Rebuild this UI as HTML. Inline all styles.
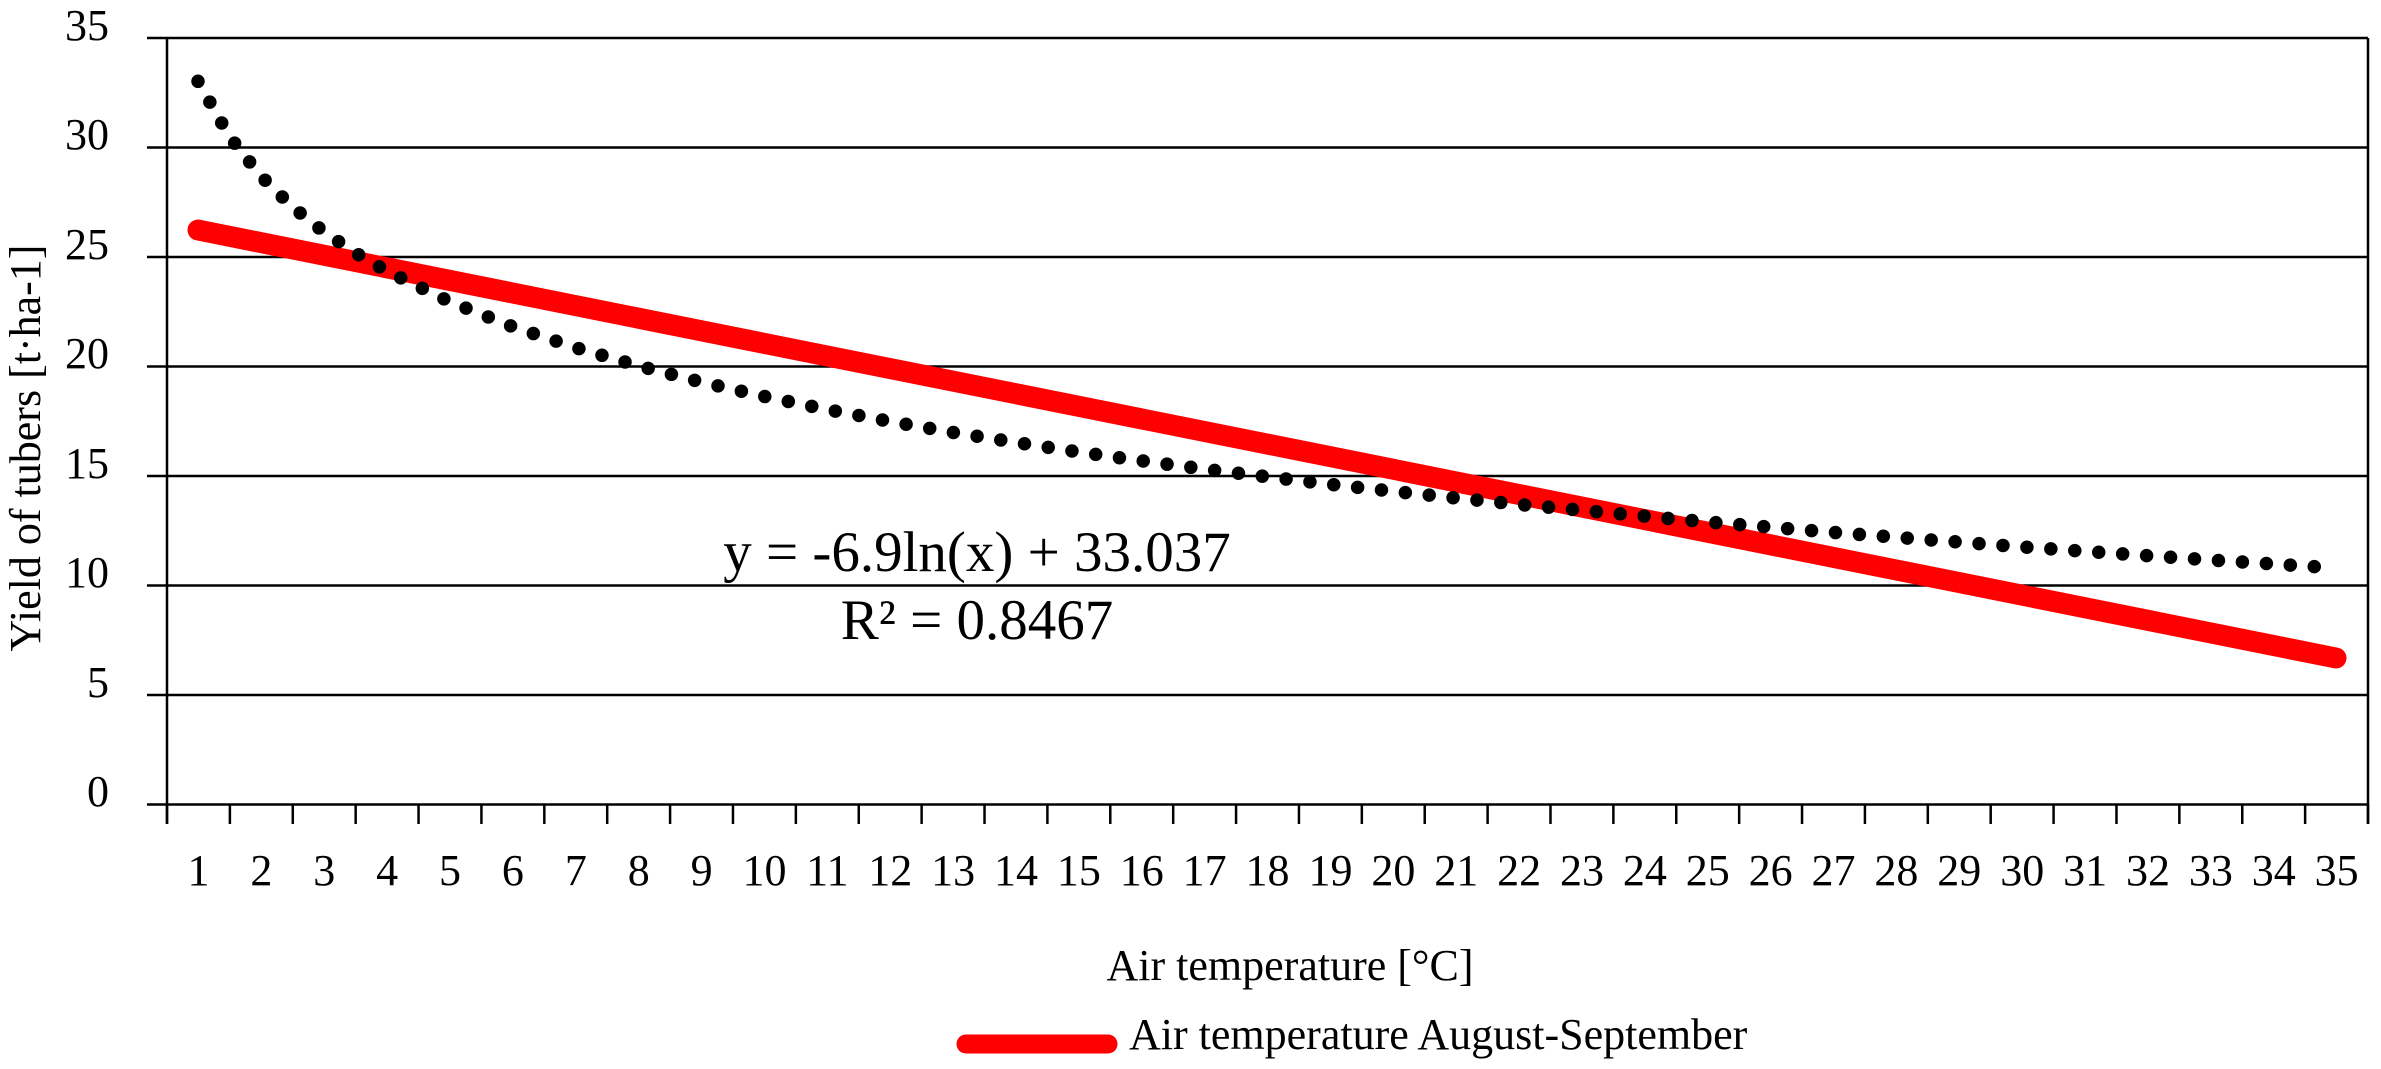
<!DOCTYPE html>
<html><head><meta charset="utf-8"><style>
html,body{margin:0;padding:0;background:#fff;}
svg{display:block;}
text{font-family:"Liberation Serif",serif;fill:#000;}
</style></head><body>
<svg width="2381" height="1069" viewBox="0 0 2381 1069" xmlns="http://www.w3.org/2000/svg">
<g stroke="#000" stroke-width="2.5" fill="none">
<line x1="147" y1="38" x2="2368" y2="38"/>
<line x1="147" y1="147.5" x2="2368" y2="147.5"/>
<line x1="147" y1="257" x2="2368" y2="257"/>
<line x1="147" y1="366.5" x2="2368" y2="366.5"/>
<line x1="147" y1="476" x2="2368" y2="476"/>
<line x1="147" y1="585.5" x2="2368" y2="585.5"/>
<line x1="147" y1="695" x2="2368" y2="695"/>
<line x1="147" y1="804.5" x2="2368" y2="804.5"/>
<line x1="167" y1="38" x2="167" y2="824"/>
<line x1="2368" y1="38" x2="2368" y2="824"/>
</g>
<g id="ticks" stroke="#000" stroke-width="2.5"></g>
<g font-size="44" text-anchor="end">
<text x="109" y="40">35</text>
<text x="109" y="149">30</text>
<text x="109" y="259">25</text>
<text x="109" y="368">20</text>
<text x="109" y="478">15</text>
<text x="109" y="587">10</text>
<text x="109" y="697">5</text>
<text x="109" y="806">0</text>
</g>
<g id="xl" font-size="44" text-anchor="middle"></g>
<line x1="198" y1="230" x2="2336" y2="658" stroke="#ff0000" stroke-width="21" stroke-linecap="round"/>
<polyline fill="none" stroke="#000" stroke-width="13.5" stroke-linecap="round" stroke-dasharray="0 24"
points="198,81.3 229.5,136.7 260.9,176.1 292.4,206.8 323.8,231.8 355.3,252.8 386.7,271 449.6,301.6 512.5,326.6 575.4,347.6 638.3,365.8 701.2,382 764.1,396.4 827,409.5 889.9,421.4 952.8,432.4 1015.7,442.4 1078.6,452 1141.5,460.8 1204.4,469.1 1267.3,476.8 1330.2,484.3 1393.1,491.3 1456,498 1518.9,504.4 1581.8,510.3 1644.7,516.2 1707.6,521.9 1770.5,527.2 1833.4,532.4 1896.3,537.3 1959.2,542.1 2022.1,546.9 2085,551.3 2147.9,555.7 2210.8,560 2273.7,564 2320,567"/>
<text x="977" y="571" font-size="57" text-anchor="middle">y = -6.9ln(x) + 33.037</text>
<text x="977" y="639" font-size="57" text-anchor="middle">R² = 0.8467</text>
<text x="1290" y="980" font-size="44" text-anchor="middle">Air temperature [°C]</text>
<line x1="966" y1="1044" x2="1108" y2="1044" stroke="#ff0000" stroke-width="19" stroke-linecap="round"/>
<text x="1129" y="1049" font-size="44">Air temperature August-September</text>
<text transform="translate(40,448) rotate(-90)" font-size="44" text-anchor="middle">Yield of tubers [t·ha-1]</text>
</svg>
<script>
var t=document.getElementById('ticks'),xl=document.getElementById('xl'),ns='http://www.w3.org/2000/svg';
for(var i=0;i<=35;i++){var x=167+i*62.886;var l=document.createElementNS(ns,'line');l.setAttribute('x1',x);l.setAttribute('x2',x);l.setAttribute('y1',804);l.setAttribute('y2',824);t.appendChild(l);}
for(var i=1;i<=35;i++){var e=document.createElementNS(ns,'text');e.setAttribute('x',198.5+(i-1)*62.886);e.setAttribute('y',885);e.textContent=i;xl.appendChild(e);}
</script>
</body></html>
